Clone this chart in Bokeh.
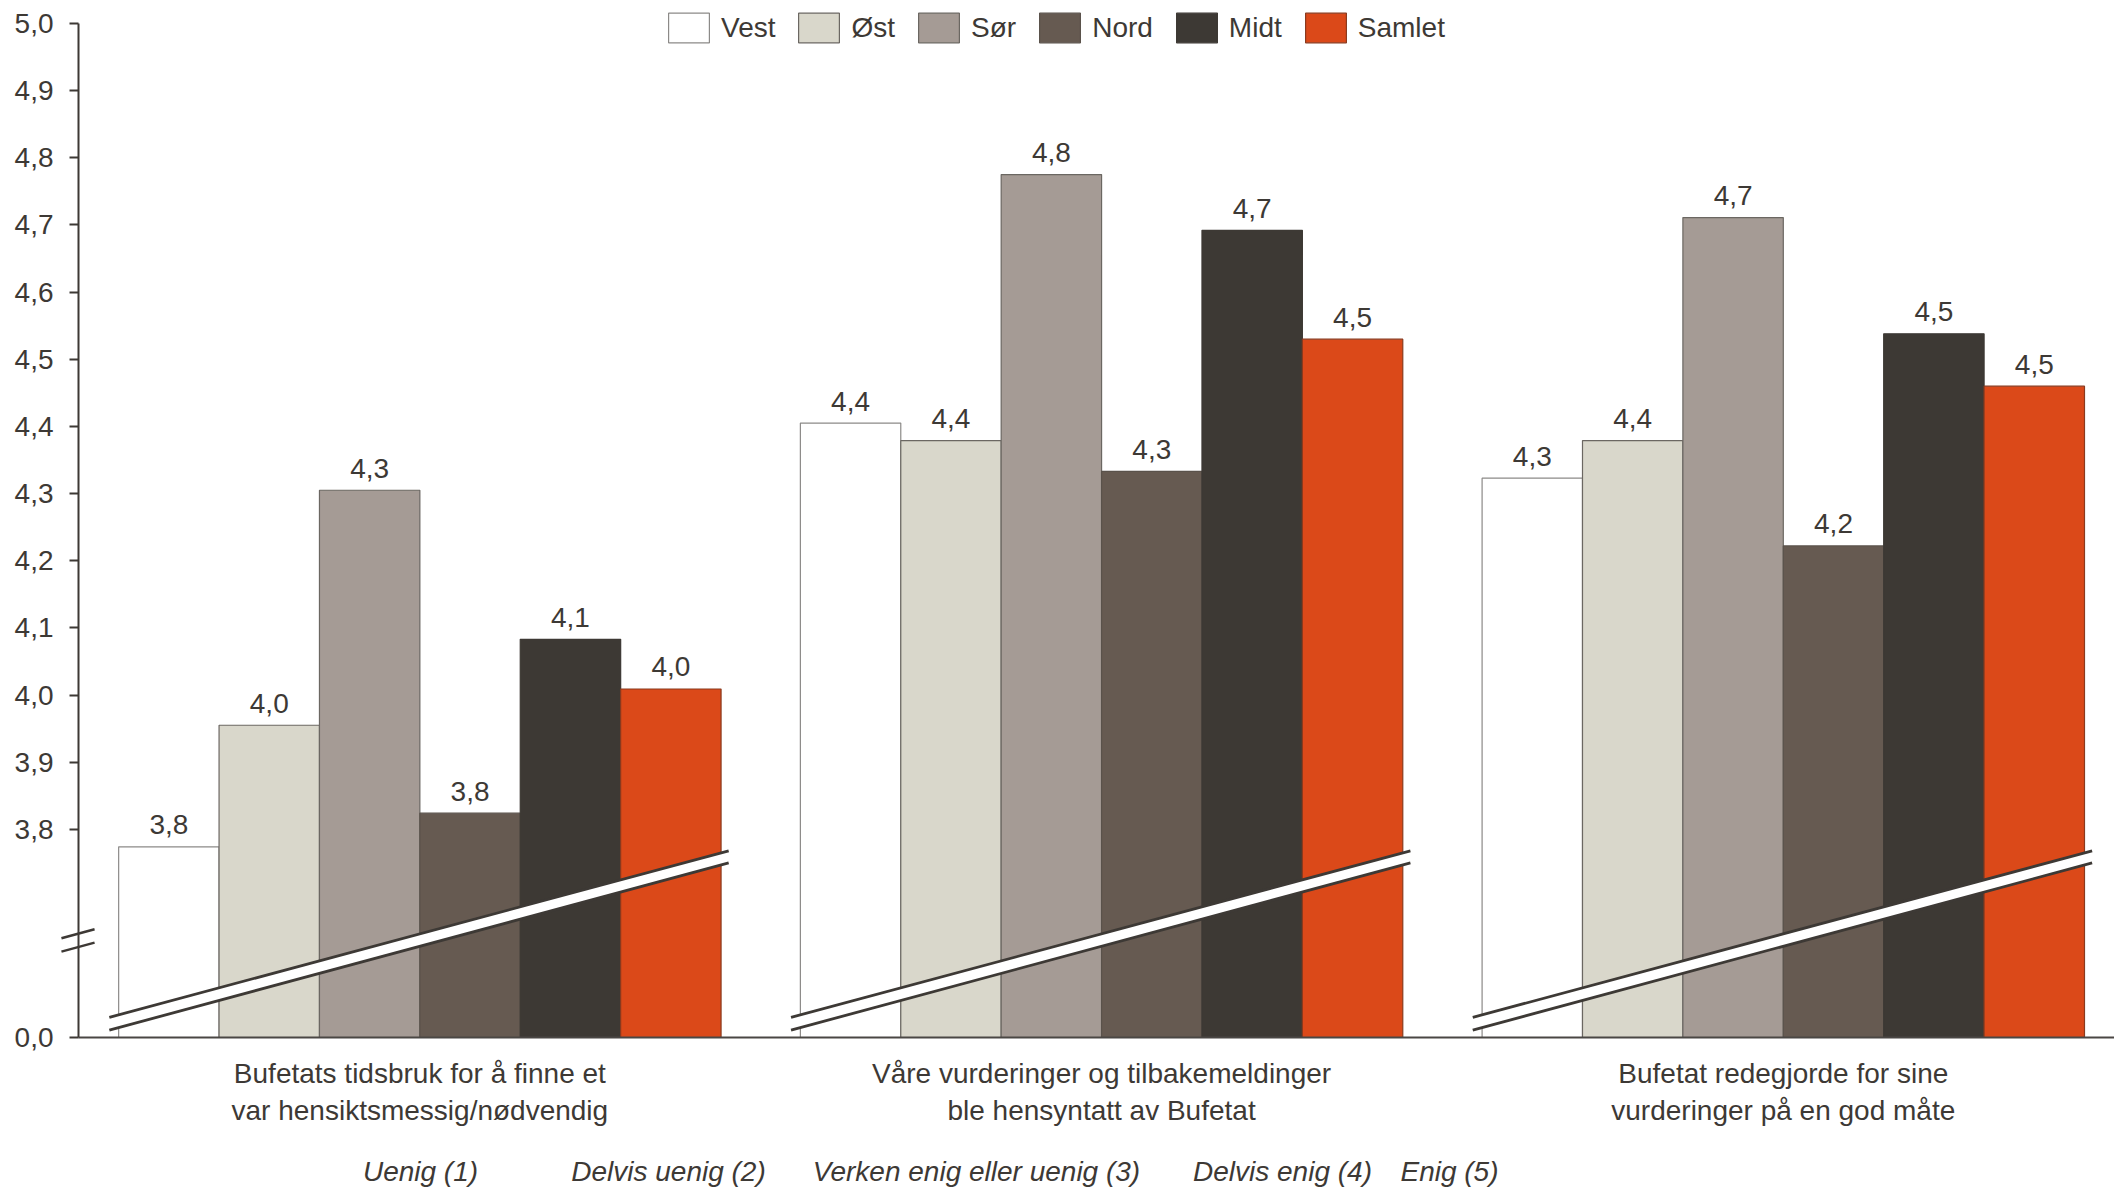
from bokeh.plotting import figure
from bokeh.models import (Range1d, FixedTicker, CustomJSTickFormatter, Arrow, LinearAxis)
from bokeh.core.properties import value
from bokeh.embed import file_html
from bokeh.resources import INLINE

# ---------------- data ----------------
categories = [
    "Bufetats tidsbruk for å finne et\nvar hensiktsmessig/nødvendig",
    "Våre vurderinger og tilbakemeldinger\nble hensyntatt av Bufetat",
    "Bufetat redegjorde for sine\nvurderinger på en god måte",
]
regions = ["Vest", "Øst", "Sør", "Nord", "Midt", "Samlet"]
vest = [3.774, 4.405, 4.323]
ost = [3.955, 4.379, 4.379]
sor = [4.305, 4.775, 4.711]
nord = [3.824, 4.333, 4.222]
midt = [4.083, 4.692, 4.538]
samlet = [4.009, 4.530, 4.460]
series = [vest, ost, sor, nord, midt, samlet]
y_ticks = [3.8, 3.9, 4.0, 4.1, 4.2, 4.3, 4.4, 4.5, 4.6, 4.7, 4.8, 4.9, 5.0]
axis_floor = 3.49          # position drawn as "0,0" (broken axis)
scale_labels = ["Uenig (1)", "Delvis uenig (2)", "Verken enig eller uenig (3)",
                "Delvis enig (4)", "Enig (5)"]

# ---------------- style ----------------
colors = ["#FFFFFF", "#D9D7CB", "#A59B95", "#665A51", "#3D3934", "#DB4919"]
outline = ["#8C8A88", "#6B6762", "#6B6762", "#5A524B", "#3D3934", "#8A3A1E"]
TXT = "#3D3935"
FONT = "Liberation Sans"
FS = "28px"

margin = 0.4      # axis to first bar (bar widths)
gap = 0.79        # gap between groups
n = len(regions)
PX = 100.4        # pixels per bar width

def group_start(k):
    return margin + k * (n + gap)

W, H = 2114, 1187
axis_px = 78          # x pixel of the value axis
base_px = 1037        # y pixel of the category axis
y_px = 671.5          # pixels per value unit
x0 = -axis_px / PX
x1 = (W - axis_px) / PX
y0 = axis_floor - (H - base_px) / y_px
y1 = axis_floor + base_px / y_px

p = figure(width=W, height=H, output_backend="svg", toolbar_location=None, title=None,
           x_range=Range1d(x0, x1), y_range=Range1d(y0, y1),
           min_border_left=0, min_border_right=0, min_border_top=0,
           min_border_bottom=0)
p.outline_line_color = None
p.xgrid.visible = False
p.ygrid.visible = False
p.background_fill_color = "white"

# bars
for i, (name, vals) in enumerate(zip(regions, series)):
    xs = [group_start(k) + i + 0.5 for k in range(len(categories))]
    p.vbar(x=xs, top=vals, bottom=axis_floor, width=1.0,
           fill_color=colors[i], line_color=outline[i], line_width=1.2,
           legend_label=name)
    p.text(x=xs, y=vals, text=[f"{v:.1f}".replace(".", ",") for v in vals],
           text_align="center", text_baseline="alphabetic", y_offset=-22,
           text_font=value(FONT), text_font_size=FS, text_color=TXT)

# break bands across each group
bx0, bx1 = -0.093, 0.076
up = (3.520, 3.768)
lo = (3.501, 3.750)
pxs, pys, sx0, sy0, sx1, sy1 = [], [], [], [], [], []
for k in range(len(categories)):
    gl = group_start(k)
    gr = gl + n
    pxs.append([gl + bx0, gr + bx1, gr + bx1, gl + bx0])
    pys.append([up[0], up[1], lo[1], lo[0]])
    for a, b in (up, lo):
        sx0.append(gl + bx0); sy0.append(a)
        sx1.append(gr + bx1); sy1.append(b)
p.patches(pxs, pys, fill_color="white", line_color=None)
p.segment(sx0, sy0, sx1, sy1, line_color=TXT, line_width=2.8)

# y axis break marks
for ya, yb in ((3.6378, 3.6513), (3.6179, 3.6313)):
    p.add_layout(Arrow(end=None, start=None, x_start=-0.17, y_start=ya,
                       x_end=0.16, y_end=yb, line_color=TXT, line_width=2.5))

# y axis (drawn at x = 0)
yax = p.yaxis[0]
yax.fixed_location = 0
yax.bounds = (axis_floor, 5.0)
yax.ticker = FixedTicker(ticks=[axis_floor] + y_ticks)
yax.formatter = CustomJSTickFormatter(
    code="return tick < 3.7 ? '0,0' : tick.toFixed(1).replace('.', ',');")
yax.axis_line_color = TXT
yax.axis_line_width = 2
yax.major_tick_line_color = TXT
yax.major_tick_line_width = 2
yax.major_tick_out = 9
yax.major_tick_in = 0
yax.minor_tick_line_color = None
yax.major_label_standoff = 16
yax.major_label_text_font = FONT
yax.major_label_text_font_size = FS
yax.major_label_text_color = TXT

# x axis (drawn at the axis floor)
centers = [group_start(k) + n / 2 for k in range(len(categories))]
xax = p.xaxis[0]
xax.fixed_location = axis_floor
xax.bounds = (0, x1)
xax.ticker = FixedTicker(ticks=centers)
xax.major_label_overrides = {c: lab for c, lab in zip(centers, categories)}
xax.axis_line_color = "#4A4744"
xax.axis_line_width = 2
xax.major_tick_line_color = None
xax.minor_tick_line_color = None
xax.major_label_standoff = 14
xax.major_label_text_font = FONT
xax.major_label_text_font_size = FS
xax.major_label_text_color = TXT

# scale explanation (italic line under the chart) as a second, label-only axis
scale_px = [420, 668, 976, 1282, 1449]
scale_pos = [(s - axis_px) / PX for s in scale_px]
ax2 = LinearAxis(ticker=FixedTicker(ticks=scale_pos), fixed_location=axis_floor,
                 major_label_overrides={s: t for s, t in zip(scale_pos, scale_labels)},
                 axis_line_color=None, major_tick_line_color=None,
                 minor_tick_line_color=None, major_label_standoff=112,
                 major_label_text_font=FONT, major_label_text_font_size=FS,
                 major_label_text_font_style="italic", major_label_text_color=TXT)
p.add_layout(ax2, "below")

# legend
lg = p.legend[0]
lg.orientation = "horizontal"
lg.location = (663, H - 9 - 37)
lg.padding = 0
lg.margin = 0
lg.spacing = 18
lg.label_standoff = 7
lg.glyph_width = 51
lg.glyph_height = 37
lg.label_height = 37
lg.border_line_color = None
lg.background_fill_alpha = 0
lg.label_text_font = FONT
lg.label_text_font_size = FS
lg.label_text_color = TXT

open("out.html", "w").write(file_html(p, INLINE))
